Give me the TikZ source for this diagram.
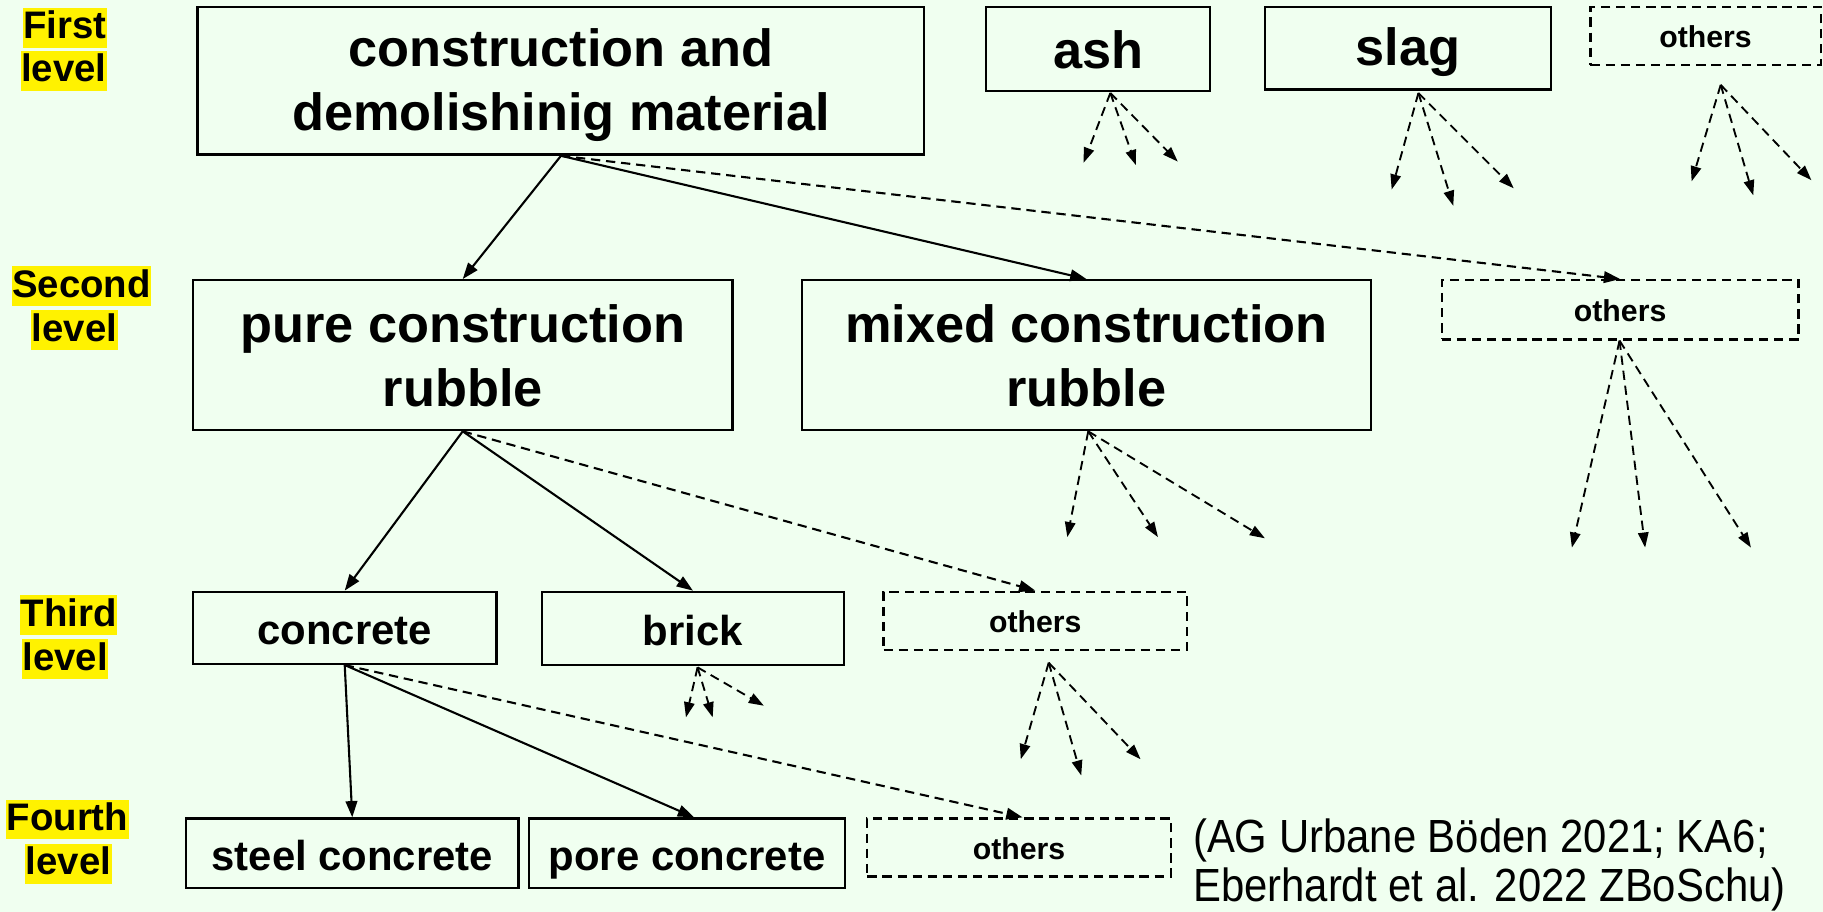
\documentclass[tikz,border=0pt]{standalone}
\usepackage{fontspec}
\setmainfont{Liberation Sans}
\newfontfamily\narrowfont[FakeStretch=0.9]{Liberation Sans}
\usetikzlibrary{arrows.meta}
\definecolor{bgc}{RGB}{240,255,240}
\newcommand{\bstr}{\rule[-6pt]{0pt}{46pt}}
\newcommand{\mstr}{\rule[-8pt]{0pt}{45pt}}
\newcommand{\sstr}{\rule[-6pt]{0pt}{32pt}}
\begin{document}
\begin{tikzpicture}[x=1pt,y=-1pt,
  box/.style={draw, line width=2pt, inner sep=0pt, align=center},
  dbox/.style={box, dash pattern=on 8pt off 5pt},
  big/.style={font=\fontsize{45}{55}\selectfont\bfseries},
  mid/.style={font=\fontsize{36}{43}\selectfont\bfseries},
  sml/.style={font=\fontsize{26}{31}\selectfont\bfseries},
  lvl/.style={fill=yellow, inner sep=0.5pt, text height=26pt, text depth=7pt, font=\fontsize{33}{38}\selectfont\bfseries},
  con/.style={line width=1.8pt, -{Triangle[length=14pt,width=10pt]}},
  dcon/.style={con, dash pattern=on 8pt off 5pt}
]
\fill[bgc] (0,0) rectangle (1568,784);
\useasboundingbox (0,0) rectangle (1568,784);

% level labels
\node[lvl] (l1a) at (56,24) {First\hspace{8pt}};
\node[lvl] (l1b) at (55,61) {level};
\node[lvl] (l2a) at (70,246) {Second\hspace{9pt}};
\node[lvl] (l2b) at (64,284) {level};
\node[lvl] (l3a) at (59,529) {Third\hspace{9pt}};
\node[lvl] (l3b) at (56,567) {level};
\node[lvl] (l4a) at (58,705) {Fourth\hspace{9pt}};
\node[lvl] (l4b) at (59,743) {level};

% boxes
\node[box, big, minimum width=625pt, minimum height=127pt] (cdm) at (482.5,69.5) {\bstr construction and\\demolishinig material\bstr};
\node[box, big, minimum width=193pt, minimum height=72pt] (ash) at (944.5,42) {\bstr ash};
\node[box, big, minimum width=246pt, minimum height=71pt] (slag) at (1211,41.5) {\bstr slag};
\node[dbox, sml, minimum width=198pt, minimum height=50pt] (o1) at (1467,31) {\sstr others};

\node[box, big, minimum width=464pt, minimum height=129pt] (pure) at (398,305.5) {\bstr pure construction\\rubble\bstr};
\node[box, big, minimum width=489pt, minimum height=129pt] (mixed) at (934.5,305.5) {\bstr mixed construction\\rubble\bstr};
\node[dbox, sml, minimum width=307pt, minimum height=51pt] (o2) at (1393.5,266.5) {\sstr others};

\node[box, mid, minimum width=261pt, minimum height=62pt] (conc) at (296.5,540) {\mstr concrete};
\node[box, mid, minimum width=260pt, minimum height=63pt] (brick) at (596,540.5) {\mstr brick};
\node[dbox, sml, minimum width=261pt, minimum height=50pt] (o3) at (890.5,534) {\sstr others};

\node[box, mid, minimum width=286pt, minimum height=60pt] (steel) at (303,734) {\mstr steel concrete};
\node[box, mid, minimum width=272pt, minimum height=60pt] (pore) at (591,734) {\mstr pore concrete};
\node[dbox, sml, minimum width=261pt, minimum height=50pt] (o4) at (876.5,729) {\sstr others};

\node[anchor=west, align=left, inner sep=0pt, font=\narrowfont\fontsize{40}{42}\selectfont] (cite) at (1026,744) {(AG Urbane Böden 2021; KA6;\\Eberhardt et al. 2022 ZBoSchu)};

% main connectors
\draw[con] (cdm.south) -- (pure.north);
\draw[con] (cdm.south) -- (mixed.north);
\draw[dcon] (cdm.south) -- (o2.north);
\draw[con] (pure.south) -- (conc.north);
\draw[con] (pure.south) -- (brick.north);
\draw[dcon] (pure.south) -- (o3.north);
\draw[con] (conc.south) -- (steel.north);
\draw[con] (conc.south) -- ([xshift=6pt]pore.north);
\draw[dcon] (conc.south) -- ([xshift=3pt]o4.north);

% fans
\coordinate (fa) at (955,80);
\coordinate (fa1) at (932,140); \coordinate (fa2) at (977,142); \coordinate (fa3) at (1013,139);
\coordinate (fs) at (1220,80);
\coordinate (fs1) at (1197,163); \coordinate (fs2) at (1250,177); \coordinate (fs3) at (1302,162);
\coordinate (fo) at (1480,73);
\coordinate (fo1) at (1455,156); \coordinate (fo2) at (1508,168); \coordinate (fo3) at (1558,155);
\coordinate (fm) at (936,371);
\coordinate (fm1) at (918,462); \coordinate (fm2) at (996,462); \coordinate (fm3) at (1088,463);
\coordinate (fp) at (1393,293);
\coordinate (fp1) at (1352,471); \coordinate (fp2) at (1415,471); \coordinate (fp3) at (1506,471);
\coordinate (fb) at (600,574);
\coordinate (fb1) at (590,617); \coordinate (fb2) at (613,617); \coordinate (fb3) at (657,607);
\coordinate (ft) at (902,570);
\coordinate (ft1) at (878,653); \coordinate (ft2) at (930,667); \coordinate (ft3) at (981,653);
\foreach \o in {fa,fs,fo,fm,fp,fb,ft}{
  \foreach \i in {1,2,3}{
    \draw[dcon, line width=1.6pt, -{Triangle[length=13pt,width=9pt]}] (\o) -- (\o\i);
  }
}
\end{tikzpicture}
\end{document}
